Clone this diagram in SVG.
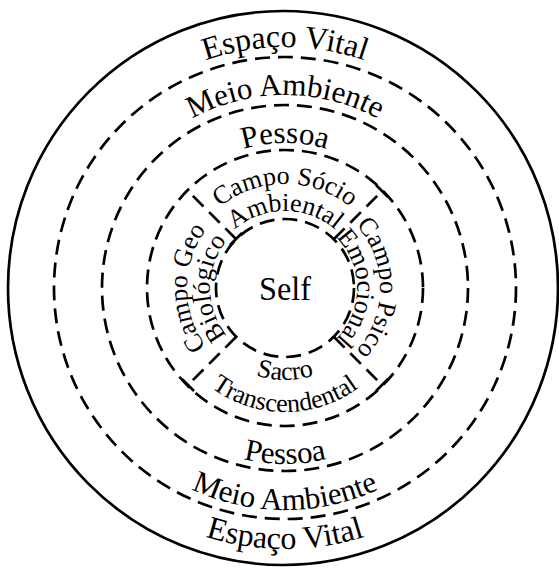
<svg xmlns="http://www.w3.org/2000/svg" xmlns:xlink="http://www.w3.org/1999/xlink" width="559" height="569" viewBox="0 0 559 569">
<style>
.ring{fill:none;stroke:#000;stroke-width:2.7;stroke-dasharray:15 8}
.solid{fill:none;stroke:#000;stroke-width:2.7}
.div{stroke:#000;stroke-width:2.7;stroke-dasharray:15 8}
.tick{stroke:#000;stroke-width:2.7}
text{font-family:"Liberation Serif","Times New Roman",serif;fill:#000}
.big{font-size:31px}
.vital{font-size:32px}
.mid{font-size:26px}
.self{font-size:34px}
</style>
<defs>
<path id="cw241" d="M285,529 A241,241 0 1 1 285,47 A241,241 0 1 1 285,529"/>
<path id="cw193" d="M285,481 A193,193 0 1 1 285,95 A193,193 0 1 1 285,481"/>
<path id="cw145" d="M285,433 A145,145 0 1 1 285,143 A145,145 0 1 1 285,433"/>
<path id="cw104" d="M285,392 A104,104 0 1 1 285,184 A104,104 0 1 1 285,392"/>
<path id="cw77" d="M285,365 A77,77 0 1 1 285,211 A77,77 0 1 1 285,365"/>
<path id="cw98" d="M285,386 A98,98 0 1 1 285,190 A98,98 0 1 1 285,386"/>
<path id="cw75" d="M285,363 A75,75 0 1 1 285,213 A75,75 0 1 1 285,363"/>
<path id="cw95" d="M285,383 A95,95 0 1 1 285,193 A95,95 0 1 1 285,383"/>
<path id="cw72" d="M285,360 A72,72 0 1 1 285,216 A72,72 0 1 1 285,360"/>
<path id="ccw92" d="M285,196 A92,92 0 1 0 285,380 A92,92 0 1 0 285,196"/>
<path id="ccw124" d="M285,164 A124,124 0 1 0 285,412 A124,124 0 1 0 285,164"/>
<path id="ccw176" d="M285,112 A176,176 0 1 0 285,464 A176,176 0 1 0 285,112"/>
<path id="ccw222" d="M285,66 A222,222 0 1 0 285,510 A222,222 0 1 0 285,66"/>
<path id="ccw261" d="M285,27 A261,261 0 1 0 285,549 A261,261 0 1 0 285,27"/>
</defs>
<g id="espaco-vital">
<ellipse class="solid" cx="283" cy="288" rx="275" ry="277"/>
<text class="vital" text-anchor="middle"><textPath xlink:href="#cw241" startOffset="50%">Espaço Vital</textPath></text>
<text class="vital" text-anchor="middle"><textPath xlink:href="#ccw261" startOffset="50%">Espaço Vital</textPath></text>
</g>
<g id="meio-ambiente">
<circle class="ring" cx="285" cy="288" r="231"/>
<text class="big" text-anchor="middle"><textPath xlink:href="#cw193" startOffset="50%">Meio Ambiente</textPath></text>
<text class="big" text-anchor="middle"><textPath xlink:href="#ccw222" startOffset="50%">Meio Ambiente</textPath></text>
</g>
<g id="pessoa">
<circle class="ring" cx="285" cy="288" r="183"/>
<text class="big" text-anchor="middle"><textPath xlink:href="#cw145" startOffset="50%">Pessoa</textPath></text>
<text class="big" text-anchor="middle"><textPath xlink:href="#ccw176" startOffset="50%">Pessoa</textPath></text>
</g>
<g id="campos">
<circle class="ring" cx="285" cy="288" r="138"/>
</g>
<g id="campo-socio-ambiental">
<text class="mid" text-anchor="middle"><textPath xlink:href="#cw104" startOffset="50%">Campo Sócio</textPath></text>
<text class="mid" text-anchor="middle"><textPath xlink:href="#cw77" startOffset="50%">Ambiental</textPath></text>
</g>
<g id="campo-psico-emocional">
<text class="mid" text-anchor="middle"><textPath xlink:href="#cw95" startOffset="75%">Campo Psico</textPath></text>
<text class="mid" text-anchor="middle"><textPath xlink:href="#cw72" startOffset="75%">Emocional</textPath></text>
</g>
<g id="campo-geo-biologico">
<text class="mid" text-anchor="middle"><textPath xlink:href="#cw98" startOffset="25%">Campo Geo</textPath></text>
<text class="mid" text-anchor="middle"><textPath xlink:href="#cw75" startOffset="25%">Biológico</textPath></text>
</g>
<g id="sacro-transcendental">
<text class="mid" text-anchor="middle"><textPath xlink:href="#ccw92" startOffset="50%">Sacro</textPath></text>
<text class="mid" text-anchor="middle"><textPath xlink:href="#ccw124" startOffset="50%">Transcendental</textPath></text>
</g>
<g id="self">
<circle class="ring" cx="285" cy="288" r="69"/>
<text class="self" x="285" y="300" text-anchor="middle" textLength="52" lengthAdjust="spacingAndGlyphs">Self</text>
</g>
<g id="connectors">
<line class="div" x1="236" y1="239" x2="188" y2="191"/>
<line class="div" x1="334" y1="239" x2="382" y2="191"/>
<line class="div" x1="236" y1="337" x2="188" y2="385"/>
<line class="div" x1="334" y1="337" x2="382" y2="385"/>
<line class="tick" x1="230" y1="245" x2="242" y2="233"/>
<line class="tick" x1="376" y1="185" x2="388" y2="197"/>
<line class="tick" x1="182" y1="379" x2="194" y2="391"/>
<line class="tick" x1="376" y1="391" x2="388" y2="379"/>
</g>
</svg>
